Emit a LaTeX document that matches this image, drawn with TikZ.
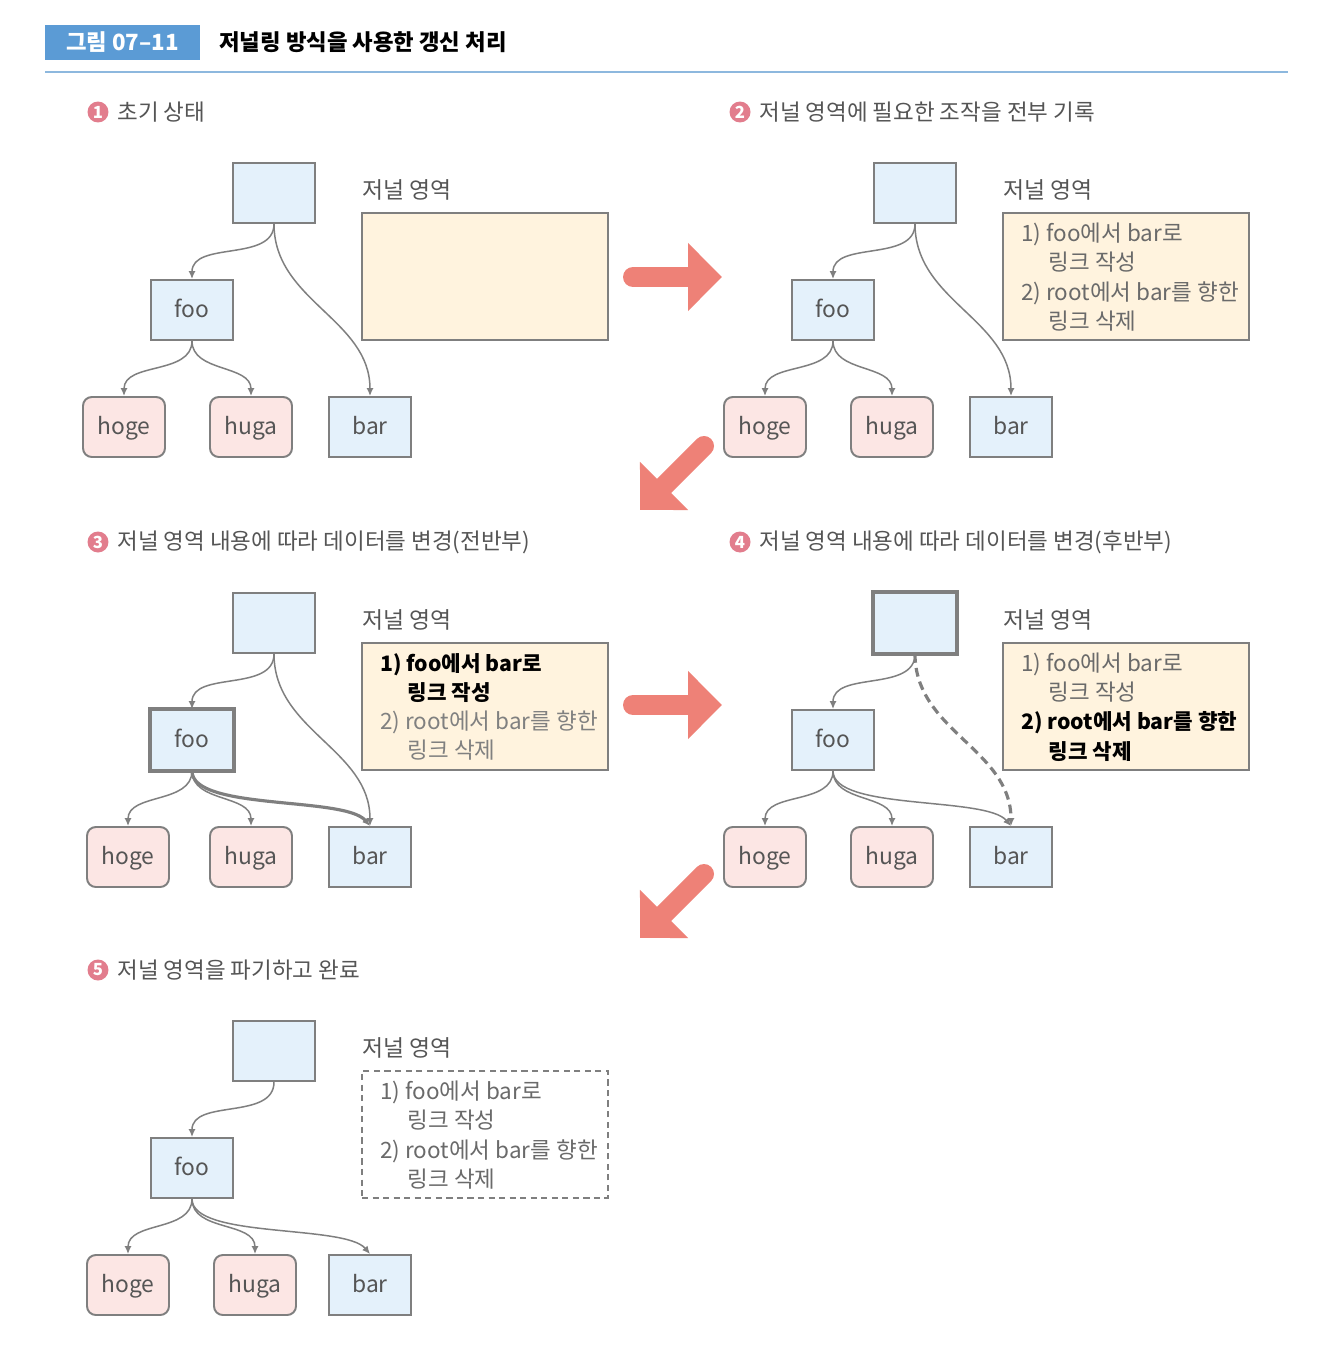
\documentclass[tikz,border=0pt]{standalone}
\usepackage{fontspec}
\setmainfont{Noto Sans CJK KR}
\usetikzlibrary{arrows.meta}

\definecolor{nodeblue}{HTML}{E4F1FB}
\definecolor{leafpink}{HTML}{FCE6E4}
\definecolor{jfill}{HTML}{FFF3DE}
\definecolor{edgegray}{HTML}{7F7F7F}
\definecolor{labelgray}{HTML}{555555}
\definecolor{jgray}{HTML}{6A6A6A}
\definecolor{arrowred}{HTML}{EE8177}
\definecolor{numpink}{HTML}{E27D8D}
\definecolor{headblue}{HTML}{5B9BD5}
\definecolor{headline}{HTML}{8DB8DE}

\newcommand{\jbold}[1]{{\fontsize{12.1}{16.6}\selectfont\bfseries\color{black}#1}}

\begin{document}
\begin{tikzpicture}[x=0.02cm,y=-0.02cm,font=\fontsize{12.8}{16.6}\selectfont]
	\tikzset{blockbox/.style = {draw=edgegray, line width=1.1pt, fill=nodeblue, minimum width=1.64cm, minimum height=1.2cm, inner sep=0pt, text=labelgray, font=\fontsize{13}{15}\selectfont, text height=1.05em, text depth=0.15em},
		leafbox/.style = {blockbox, fill=leafpink, rounded corners=5pt},
		jbox/.style = {draw=edgegray, line width=1.1pt, fill=jfill, minimum width=4.92cm, minimum height=2.54cm},
		jlabel/.style = {anchor=west, inner sep=0pt, text=labelgray, font=\fontsize{13}{15}\selectfont},
		jtext/.style = {anchor=west, align=left, inner sep=0pt, text=jgray},
		ptitle/.style = {anchor=west, inner sep=0pt, text=labelgray},
		numdot/.style = {circle, fill=numpink, text=white, inner sep=0pt, minimum size=0.42cm, font=\fontsize{9.5}{9.5}\bfseries},
		link/.style = {draw=edgegray, line width=0.85pt, -{Latex[length=4.5pt,width=4pt]}},
		bigarrow/.style = {draw=arrowred, line width=0.4cm, line cap=round, -{Triangle[length=0.68cm,width=1.32cm]}}}

	\fill[white] (0,0) rectangle (1318,1348);
	\useasboundingbox (0,0) rectangle (1318,1348);

	% header
	\node[fill=headblue, minimum width=3.1cm, minimum height=0.7cm, inner sep=0pt, text=white, font=\fontsize{12.7}{14}\bfseries] (head) at (122.5,42.5) {그림 07–11};
	\node[anchor=west, inner sep=0pt, font=\fontsize{12.7}{14}\bfseries] (title) at (219,42) {저널링 방식을 사용한 갱신 처리};
	\coordinate (hl) at (45,72);
	\coordinate (hr) at (1288,72);
	\draw[headline, line width=0.9pt] (hl) -- (hr);

	% panel titles
	\node[numdot] (n1) at (98,112) {1};
	\node[ptitle] (p1) at (117,112) {초기 상태};
	\node[numdot] (n2) at (740,112) {2};
	\node[ptitle] (p2) at (759,112) {저널 영역에 필요한 조작을 전부 기록};
	\node[numdot] (n3) at (98,542) {3};
	\node[ptitle] (p3) at (117,542) {저널 영역 내용에 따라 데이터를 변경(전반부)};
	\node[numdot] (n4) at (740,542) {4};
	\node[ptitle] (p4) at (759,542) {저널 영역 내용에 따라 데이터를 변경(후반부)};
	\node[numdot] (n5) at (98,970) {5};
	\node[ptitle] (p5) at (117,970) {저널 영역을 파기하고 완료};

	% trees
	\foreach \p/\dx/\dy/\sa/\sb in {1/0/0/0/0, 2/641/0/0/0, 3/0/430/4/0, 4/641/430/0/0, 5/0/858/4/4} {
		\node[blockbox] (r\p) at (\dx+274,\dy+193) {};
		\node[blockbox] (f\p) at (\dx+192,\dy+310) {foo};
		\node[leafbox] (hg\p) at (\dx+124+\sa,\dy+427) {hoge};
		\node[leafbox] (hu\p) at (\dx+251+\sb,\dy+427) {huga};
		\node[blockbox] (b\p) at (\dx+370,\dy+427) {bar};
		\node[jlabel] (jl\p) at (\dx+362,\dy+190) {저널 영역};
		\draw[link] (r\p.south) to[out=-90,in=90] (f\p.north);
		\draw[link] (f\p.south) to[out=-90,in=90] (hg\p.north);
		\draw[link] (f\p.south) to[out=-90,in=90] (hu\p.north);
	}

	% panel 1
	\draw[link] (r1.south) to[out=-90,in=90] (b1.north);
	\node[jbox] (j1) at (485,276.5) {};

	% panel 2
	\draw[link] (r2.south) to[out=-90,in=90] (b2.north);
	\node[jbox] (j2) at (1126,276.5) {};
	\node[jtext] (t2) at (1021,277) {1) foo에서 bar로\\\hspace*{15.5pt}링크 작성\\2) root에서 bar를 향한\\\hspace*{15.5pt}링크 삭제};

	% panel 3
	\draw[link] (r3.south) to[out=-90,in=90] (b3.north);
	\draw[link, line width=1.8pt] (f3.south) .. controls +(0,40) and +(-25,-30) .. (b3.north);
	\draw[edgegray, line width=2.6pt] (f3.south west) rectangle (f3.north east);
	\node[jbox] (j3) at (485,706.5) {};
	\node[jtext] (t3) at (380,707) {\jbold{1) foo에서 bar로}\\\hspace*{15.5pt}\jbold{링크 작성}\\\textcolor{gray}{2) root에서 bar를 향한}\\\hspace*{15.5pt}\textcolor{gray}{링크 삭제}};

	% panel 4
	\draw[link] (f4.south) .. controls +(0,40) and +(-25,-30) .. (b4.north);
	\draw[link, line width=1.8pt, dash pattern=on 5pt off 3pt] (r4.south) to[out=-90,in=90] (b4.north);
	\draw[edgegray, line width=2.6pt] (r4.south west) rectangle (r4.north east);
	\node[jbox] (j4) at (1126,706.5) {};
	\node[jtext] (t4) at (1021,707) {1) foo에서 bar로\\\hspace*{15.5pt}링크 작성\\\jbold{2) root에서 bar를 향한}\\\hspace*{15.5pt}\jbold{링크 삭제}};

	% panel 5
	\draw[link] (f5.south) .. controls +(0,40) and +(-25,-30) .. (b5.north);
	\node[jbox, fill=white, dash pattern=on 3.5pt off 2.5pt] (j5) at (485,1134.5) {};
	\node[jtext] (t5) at (380,1135) {1) foo에서 bar로\\\hspace*{15.5pt}링크 작성\\2) root에서 bar를 향한\\\hspace*{15.5pt}링크 삭제};

	% big arrows
	\coordinate (a1s) at (633,277);
	\coordinate (a1e) at (722,277);
	\coordinate (a2s) at (704,446);
	\coordinate (a2e) at (640,510);
	\coordinate (a3s) at (633,705);
	\coordinate (a3e) at (722,705);
	\coordinate (a4s) at (704,874);
	\coordinate (a4e) at (640,938);
	\draw[bigarrow] (a1s) -- (a1e);
	\draw[bigarrow] (a2s) -- (a2e);
	\draw[bigarrow] (a3s) -- (a3e);
	\draw[bigarrow] (a4s) -- (a4e);

\end{tikzpicture}
\end{document}
